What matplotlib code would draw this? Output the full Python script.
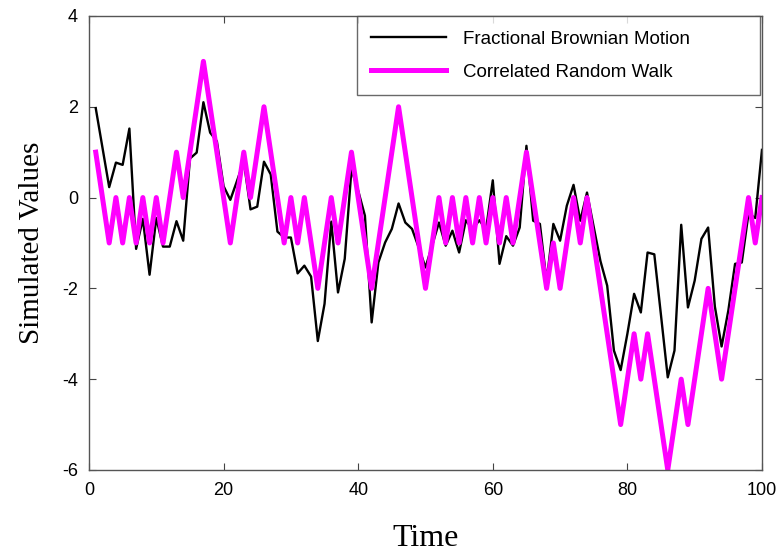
import numpy as np
import matplotlib
matplotlib.use("Agg")
import matplotlib.pyplot as plt

plt.rcParams["axes.unicode_minus"] = False
plt.rcParams["font.family"] = ["Liberation Sans", "DejaVu Sans"]

time = np.arange(1, 101)

fbm = [
    1.97, 1.1, 0.23, 0.77, 0.72, 1.52, -1.13, -0.47, -1.7, -0.45,
    -1.08, -1.08, -0.52, -0.95, 0.86, 0.99, 2.1, 1.43, 1.24, 0.25,
    -0.05, 0.37, 0.8, -0.26, -0.2, 0.79, 0.51, -0.75, -0.88, -0.88,
    -1.67, -1.5, -1.74, -3.16, -2.34, -0.53, -2.09, -1.35, 0.62, 0.15,
    -0.4, -2.75, -1.43, -0.99, -0.69, -0.13, -0.55, -0.69, -1.1, -1.54,
    -1.05, -0.55, -1.06, -0.73, -1.21, -0.5, -0.7, -0.5, -0.7, 0.38,
    -1.46, -0.85, -1.06, -0.66, 1.14, -0.51, -0.58, -1.85, -0.58, -0.95,
    -0.18, 0.28, -0.51, 0.11, -0.65, -1.4, -1.94, -3.37, -3.8, -3.0,
    -2.12, -2.53, -1.21, -1.25, -2.6, -3.96, -3.37, -0.6, -2.42, -1.83,
    -0.91, -0.66, -2.4, -3.28, -2.49, -1.46, -1.43, -0.35, -0.45, 1.05,
]

crw = [
    1, 0, -1, 0, -1, 0, -1, 0, -1, 0,
    -1, 0, 1, 0, 1, 2, 3, 2, 1, 0,
    -1, 0, 1, 0, 1, 2, 1, 0, -1, 0,
    -1, 0, -1, -2, -1, 0, -1, 0, 1, 0,
    -1, -2, -1, 0, 1, 2, 1, 0, -1, -2,
    -1, 0, -1, 0, -1, 0, -1, 0, -1, 0,
    -1, 0, -1, 0, 1, 0, -1, -2, -1, -2,
    -1, 0, -1, 0, -1, -2, -3, -4, -5, -4,
    -3, -4, -3, -4, -5, -6, -5, -4, -5, -4,
    -3, -2, -3, -4, -3, -2, -1, 0, -1, 0,
]

fig = plt.figure(figsize=(7.78, 5.52), dpi=100)
ax = fig.add_axes([0.1144, 0.1486, 0.865, 0.8225])

ax.plot(time, fbm, color="black", linewidth=1.7, label="Fractional Brownian Motion")
ax.plot(time, crw, color="#ff00ff", linewidth=3.6, label="Correlated Random Walk")

ax.set_xlim(0, 100)
ax.set_ylim(-6, 4)
ax.set_xticks(range(0, 101, 20))
ax.set_yticks(range(-6, 5, 2))
ax.tick_params(direction="in", top=True, right=True, labelsize=13,
               length=5, width=0.8, color="#444444")
ax.tick_params(axis="x", pad=9)
ax.tick_params(axis="y", pad=8)
for s in ax.spines.values():
    s.set_color("#555555")
    s.set_linewidth(1.0)

serif = ["Liberation Serif", "DejaVu Serif"]
ax.set_xlabel("Time", family=serif, fontsize=23, labelpad=18)
ax.set_ylabel("Simulated Values", family=serif, fontsize=21, labelpad=12)

# legend box stretched to the same width as the text area on the right
leg = ax.legend(loc="upper right", bbox_to_anchor=(0.398, 0.0, 0.599, 1.0),
                mode="expand", fontsize=13.5, frameon=True, fancybox=False,
                borderaxespad=0, handlelength=4.0, handletextpad=0.9,
                borderpad=0.78, labelspacing=0.85)
leg.get_frame().set_edgecolor("#444444")
leg.get_frame().set_linewidth(1.0)

fig.savefig("out.png", dpi=100)
